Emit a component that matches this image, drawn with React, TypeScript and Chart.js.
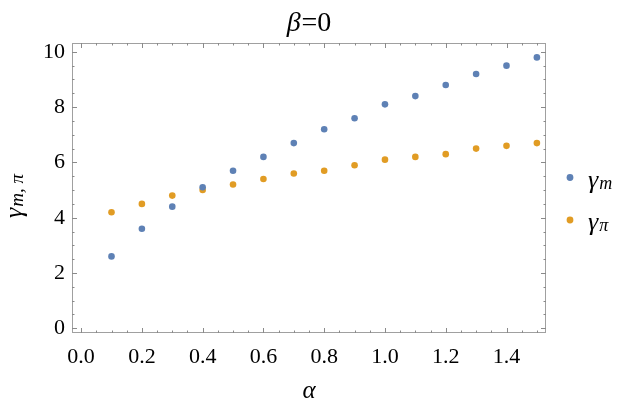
import React, { useEffect, useRef } from "react";
import { Chart, registerables } from "chart.js";

Chart.register(...registerables);

const alphas = [0.1, 0.2, 0.3, 0.4, 0.5, 0.6, 0.7, 0.8, 0.9, 1.0, 1.1, 1.2, 1.3, 1.4, 1.5];
const gammaM = [2.6, 3.6, 4.4, 5.1, 5.7, 6.2, 6.7, 7.2, 7.6, 8.1, 8.4, 8.8, 9.2, 9.5, 9.8];
const gammaPi = [4.2, 4.5, 4.8, 5.0, 5.2, 5.4, 5.6, 5.7, 5.9, 6.1, 6.2, 6.3, 6.5, 6.6, 6.7];
const xTicks = [0, 0.2, 0.4, 0.6, 0.8, 1.0, 1.2, 1.4];
const yTicks = [0, 2, 4, 6, 8, 10];
const xMinorStep = 0.05;
const yMinorStep = 0.5;

const BLUE = "#5E81B5";
const ORANGE = "#E19C24";
const SERIF = "\"Liberation Serif\"";

function drawSub(
  ctx: CanvasRenderingContext2D,
  x: number,
  y: number,
  main: string,
  sub: string,
  size: number,
  subSize: number,
  align: "left" | "center"
) {
  ctx.font = `italic ${size}px ${SERIF}`;
  const w1 = ctx.measureText(main).width;
  ctx.font = `italic ${subSize}px ${SERIF}`;
  const w2 = ctx.measureText(sub).width;
  const total = w1 + w2 + 1;
  const sx = align === "center" ? x - total / 2 : x;
  ctx.textAlign = "left";
  ctx.textBaseline = "alphabetic";
  ctx.font = `italic ${size}px ${SERIF}`;
  ctx.fillText(main, sx, y);
  ctx.font = `italic ${subSize}px ${SERIF}`;
  ctx.fillText(sub, sx + w1 + 1, y + 1);
}

const framePlugin = {
  id: "frame",
  afterDraw(chart: any) {
    const { ctx, chartArea } = chart;
    const xs = chart.scales.x;
    const ys = chart.scales.y;
    const { left, right, top, bottom } = chartArea;
    ctx.save();
    ctx.strokeStyle = "#a0a0a0";
    ctx.lineWidth = 1;
    ctx.strokeRect(left + 0.5, top + 0.5, right - left - 1, bottom - top - 1);
    ctx.strokeStyle = "#8a8a8a";
    for (let v = Math.ceil(xs.min / xMinorStep) * xMinorStep; v <= xs.max + 1e-9; v += xMinorStep) {
      const px = Math.round(xs.getPixelForValue(v)) + 0.5;
      const len = Math.abs(Math.round(v * 5) - v * 5) < 1e-6 ? 5 : 2.5;
      ctx.beginPath();
      ctx.moveTo(px, bottom);
      ctx.lineTo(px, bottom - len);
      ctx.moveTo(px, top);
      ctx.lineTo(px, top + len);
      ctx.stroke();
    }
    for (let v = Math.ceil(ys.min / yMinorStep) * yMinorStep; v <= ys.max + 1e-9; v += yMinorStep) {
      const py = Math.round(ys.getPixelForValue(v)) + 0.5;
      const len = Math.abs(v / 2 - Math.round(v / 2)) < 1e-6 ? 5 : 2.5;
      ctx.beginPath();
      ctx.moveTo(left, py);
      ctx.lineTo(left + len, py);
      ctx.moveTo(right, py);
      ctx.lineTo(right - len, py);
      ctx.stroke();
    }
    ctx.fillStyle = "#000";
    const cx = (left + right) / 2;
    // title
    ctx.font = `italic 28px ${SERIF}`;
    const wb = ctx.measureText("β").width;
    ctx.font = `28px ${SERIF}`;
    const we = ctx.measureText("=0").width;
    const tx = cx - (wb + we + 1) / 2;
    ctx.textAlign = "left";
    ctx.textBaseline = "alphabetic";
    ctx.font = `italic 28px ${SERIF}`;
    ctx.fillText("β", tx, 31);
    ctx.font = `28px ${SERIF}`;
    ctx.fillText("=0", tx + wb + 1, 31);
    // x title
    ctx.font = `italic 25px ${SERIF}`;
    ctx.textAlign = "center";
    ctx.fillText("α", cx, 398);
    // y title
    ctx.save();
    ctx.translate(22, 196);
    ctx.rotate(-Math.PI / 2);
    drawSub(ctx, 0, 0, "γ", "m, π", 26, 19, "center");
    ctx.restore();
    // legend
    const items = [
      { c: BLUE, s: "m", y: 177.5 },
      { c: ORANGE, s: "π", y: 220 },
    ];
    for (const it of items) {
      ctx.fillStyle = it.c;
      ctx.beginPath();
      ctx.arc(570, it.y, 3.4, 0, Math.PI * 2);
      ctx.fill();
      ctx.fillStyle = "#000";
      drawSub(ctx, 588, it.y + 10, "γ", it.s, 26, 18, "left");
    }
    ctx.restore();
  },
};

export default function App() {
  const ref = useRef<HTMLCanvasElement | null>(null);
  useEffect(() => {
    if (!ref.current) return;
    const chart = new Chart(ref.current, {
      type: "scatter",
      data: {
        datasets: [
          {
            label: "γm",
            data: alphas.map((a, i) => ({ x: a, y: gammaM[i] })),
            backgroundColor: BLUE,
            borderWidth: 0,
            pointRadius: 3.3,
          },
          {
            label: "γπ",
            data: alphas.map((a, i) => ({ x: a, y: gammaPi[i] })),
            backgroundColor: ORANGE,
            borderWidth: 0,
            pointRadius: 3.3,
          },
        ],
      },
      options: {
        animation: false,
        responsive: true,
        maintainAspectRatio: false,
        layout: { padding: { left: 0, top: 43, right: 77, bottom: 0 } },
        plugins: { legend: { display: false }, tooltip: { enabled: false }, title: { display: false } },
        scales: {
          x: {
            type: "linear",
            min: -0.03,
            max: 1.53,
            grid: { display: false, drawTicks: false },
            border: { display: false },
            afterBuildTicks: (s: any) => {
              s.ticks = xTicks.map((v) => ({ value: v }));
            },
            afterFit: (s: any) => {
              s.height = 73;
            },
            ticks: {
              padding: 11,
              color: "#000",
              font: { family: SERIF, size: 22 },
              callback: (v: any) => Number(v).toFixed(1),
            },
          },
          y: {
            type: "linear",
            min: -0.17,
            max: 10.32,
            grid: { display: false, drawTicks: false },
            border: { display: false },
            afterBuildTicks: (s: any) => {
              s.ticks = yTicks.map((v) => ({ value: v }));
            },
            afterFit: (s: any) => {
              s.width = 72;
            },
            ticks: {
              padding: 7,
              color: "#000",
              font: { family: SERIF, size: 22 },
              callback: (v: any) => String(v),
            },
          },
        },
      },
      plugins: [framePlugin],
    });
    return () => chart.destroy();
  }, []);
  return (
    <div style={{ position: "absolute", left: 0, top: 0, width: 623, height: 406, background: "#fff" }}>
      <canvas ref={ref} />
    </div>
  );
}
